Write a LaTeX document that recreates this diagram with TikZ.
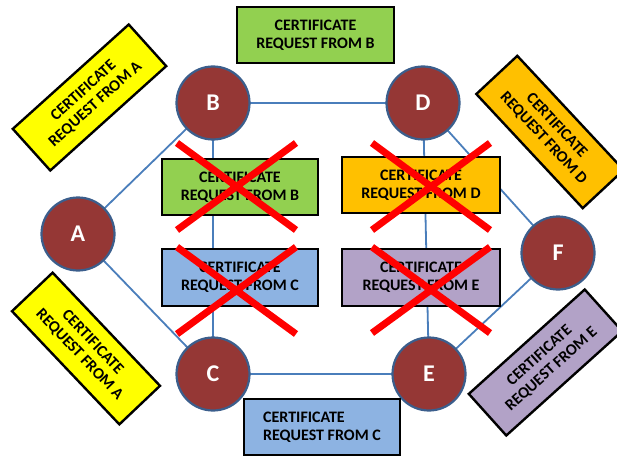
\documentclass[tikz,border=0pt]{standalone}
\usepackage{fontspec}
\setmainfont{Carlito}
\usetikzlibrary{backgrounds}
\definecolor{peerred}{HTML}{953735}
\definecolor{peeredge}{HTML}{3B5E8C}
\definecolor{linkblue}{HTML}{4A7EBB}
\definecolor{reqgreen}{HTML}{92D050}
\definecolor{reqorange}{HTML}{FFC000}
\definecolor{reqblue}{HTML}{8DB3E2}
\definecolor{reqpurple}{HTML}{B2A2C7}
\definecolor{reqyellow}{HTML}{FFFF00}
\begin{document}
\begin{tikzpicture}[x=1pt,y=-1pt,
  peer/.style={circle, draw=peeredge, line width=2.2pt, fill=peerred,
    minimum size=73pt, inner sep=0pt, text=white,
    font=\fontsize{24}{24}\selectfont\bfseries},
  link/.style={draw=linkblue, line width=1.8pt},
  req/.style={draw=black, line width=2.4pt, inner sep=0pt, align=center,
    minimum width=156pt, minimum height=56pt, text=black,
    font=\fontsize{16}{18}\selectfont\bfseries},
  veto/.style={draw=red, line width=7pt},
]
\useasboundingbox (0,0) rectangle (617,457);

% peers
\node[peer] (A) at (78,234) {A};
\node[peer] (B) at (213,103) {B};
\node[peer] (C) at (213,374) {C};
\node[peer] (D) at (423,103) {D};
\node[peer] (E) at (429,374) {E};
\node[peer] (F) at (558,253) {F};

% links between peers, behind the circles
\begin{scope}[on background layer]
\path[link] (A.center) -- (B.center) (A.center) -- (C.center)
  (B.center) -- (D.center) (B.center) -- (C.center)
  (C.center) -- (E.center) (D.center) -- (E.center)
  (D.center) -- (F.center) (E.center) -- (F.center);
\end{scope}

% requests that are passed on
\node[req, fill=reqgreen, minimum width=157pt] (rb) at (315.5,35) {CERTIFICATE\\REQUEST FROM B};
\node[req, fill=reqblue, align=left] (rc) at (322,427) {CERTIFICATE\\REQUEST FROM C};
\node[req, fill=reqyellow, rotate=42] (ra1) at (89.5,97.5) {CERTIFICATE\\REQUEST FROM A};
\node[req, fill=reqyellow, rotate=-46.5] (ra2) at (86,348.5) {CERTIFICATE\\REQUEST FROM A};
\node[req, fill=reqorange, rotate=-47] (rd) at (550,132) {CERTIFICATE\\REQUEST FROM D};
\node[req, fill=reqpurple, rotate=42] (re) at (545.5,362.5) {CERTIFICATE\\REQUEST FROM E};

% requests that are refused
\node[req, fill=reqgreen] (xb) at (240,187) {CERTIFICATE\\REQUEST FROM B};
\node[req, fill=reqorange, minimum width=158pt] (xd) at (421,185) {CERTIFICATE\\REQUEST FROM D};
\node[req, fill=reqblue, minimum height=57pt] (xc) at (240,277.5) {CERTIFICATE\\REQUEST FROM C};
\node[req, fill=reqpurple, minimum width=158pt, minimum height=57pt] (xe) at (421,277.5) {CERTIFICATE\\REQUEST FROM E};

% red crosses
\draw[veto] (177,143) -- (296,230) (296,143) -- (177,230);
\draw[veto] (177,247) -- (296,334) (296,247) -- (177,334);
\draw[veto] (372,143) -- (490,230) (490,143) -- (372,230);
\draw[veto] (372,247) -- (490,333) (490,247) -- (372,333);
\end{tikzpicture}
\end{document}
